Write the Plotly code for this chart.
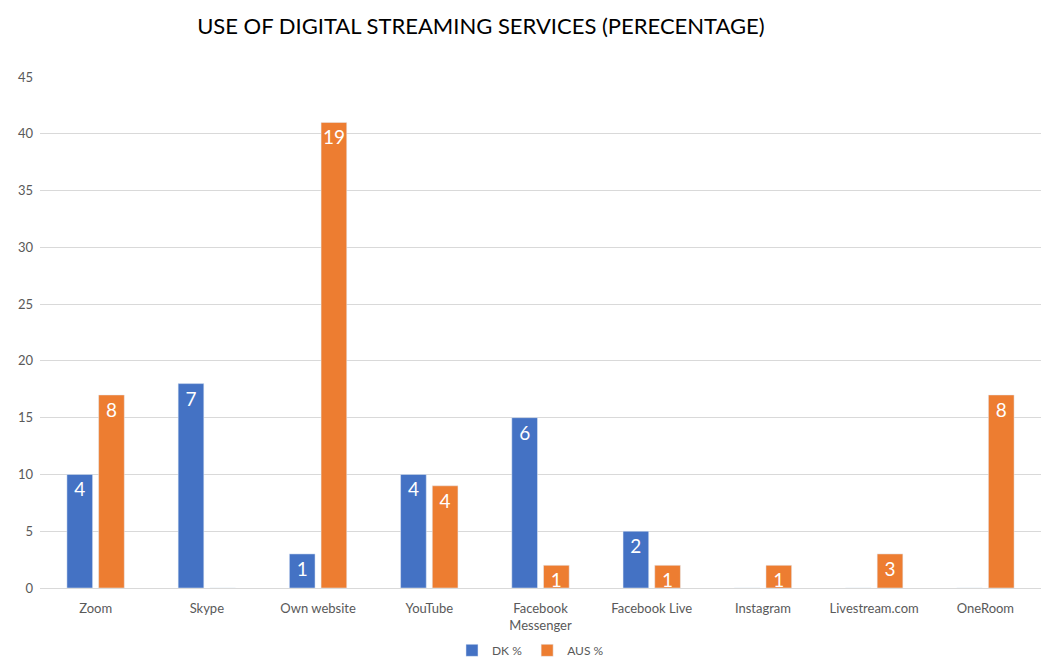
import plotly.graph_objects as go

categories = ["Zoom", "Skype", "Own website", "YouTube", "Facebook<br>Messenger",
              "Facebook Live", "Instagram", "Livestream.com", "OneRoom"]
dk_pct = [10, 18, 3, 10, 15, 5, 0, 0, 0]
dk_count = [4, 7, 1, 4, 6, 2, 0, 0, 0]
aus_pct = [17, 0, 41, 9, 2, 2, 2, 3, 17]
aus_count = [8, 0, 19, 4, 1, 1, 1, 3, 8]

def labels(counts):
    return [str(c) if c else "" for c in counts]

font_family = "Lato, 'Noto Sans', sans-serif"

fig = go.Figure()
fig.add_trace(go.Bar(name="DK %", x=categories, y=dk_pct, text=labels(dk_count),
                     marker_color="#4472C4", textposition="inside", insidetextanchor="end",
                     constraintext="none", cliponaxis=False, textangle=0,
                     textfont=dict(color="white", size=19, family=font_family)))
fig.add_trace(go.Bar(name="AUS %", x=categories, y=aus_pct, text=labels(aus_count),
                     marker_color="#ED7D31", textposition="inside", insidetextanchor="end",
                     constraintext="none", cliponaxis=False, textangle=0,
                     textfont=dict(color="white", size=19, family=font_family)))

fig.update_layout(
    width=1041, height=664,
    margin=dict(l=40, r=0, t=77, b=76, autoexpand=False),
    paper_bgcolor="white", plot_bgcolor="white",
    barmode="group", bargap=0.43, bargroupgap=0.19,
    uniformtext=dict(minsize=19, mode="show"),
    font=dict(family=font_family, color="#595959", size=13),
    title=dict(text="USE OF DIGITAL STREAMING SERVICES (PERECENTAGE)",
               x=0.462, xanchor="center", y=0.96, yanchor="middle",
               font=dict(size=22, color="#000000", family=font_family)),
    legend=dict(orientation="h", x=0.49, xanchor="center", y=-0.122, yanchor="middle",
                font=dict(size=12, color="#595959"), itemwidth=30, traceorder="normal",
                tracegroupgap=0),
    xaxis=dict(showgrid=False, showline=True, linecolor="#d9d9d9", linewidth=1,
               ticks="", automargin=False, ticklabelstandoff=8,
               tickfont=dict(size=13, color="#595959")),
    yaxis=dict(range=[0, 45], dtick=5, showgrid=True, gridcolor="#d9d9d9", gridwidth=1,
               zeroline=False, ticks="", automargin=False, ticklabelstandoff=6,
               tickfont=dict(size=13, color="#595959")),
)

fig.write_html("out.html")
